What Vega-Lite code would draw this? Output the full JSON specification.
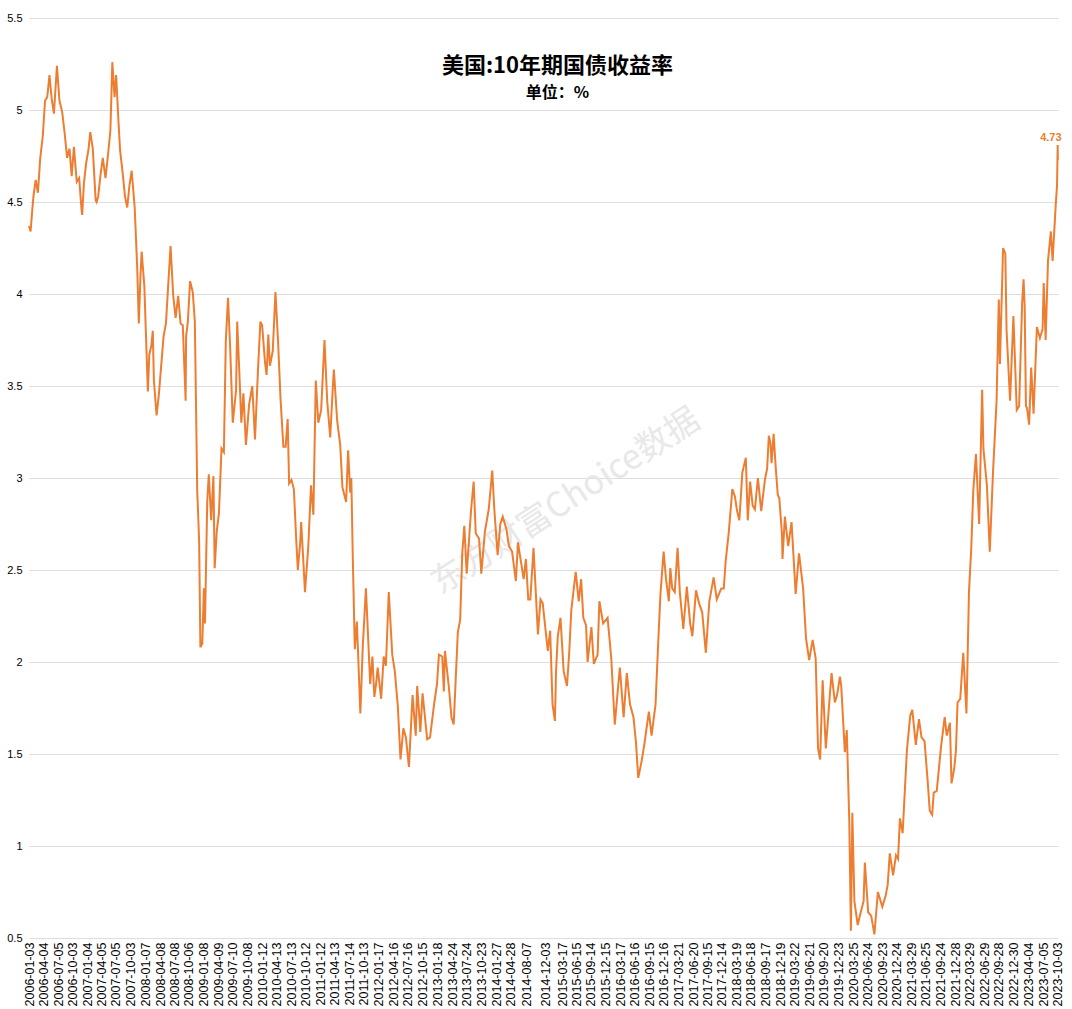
{
  "$schema": "https://vega.github.io/schema/vega-lite/v6.json",
  "autosize": {"type": "fit", "contains": "padding"},
  "width": 1072,
  "height": 1009,
  "padding": {"left": 6, "top": 12, "right": 7, "bottom": 3},
  "background": "white",
  "config": {"view": {"stroke": null}},
  "title": {
    "text": "美国:10年期国债收益率",
    "subtitle": "单位：%",
    "font": "Noto Sans CJK SC",
    "fontSize": 22,
    "fontWeight": "bold",
    "color": "#000000",
    "subtitleFont": "Noto Sans CJK SC",
    "subtitleFontSize": 16,
    "subtitleFontWeight": "bold",
    "subtitleColor": "#000000",
    "subtitlePadding": 7,
    "anchor": "middle",
    "dx": 14,
    "offset": -90
  },
  "data": {"values": [
    {"d":"2006-01-03","v":4.37},{"d":"2006-01-13","v":4.34},{"d":"2006-01-23","v":4.45},{"d":"2006-01-31","v":4.53},{"d":"2006-02-14","v":4.62},{"d":"2006-02-28","v":4.55},
    {"d":"2006-03-15","v":4.74},{"d":"2006-03-31","v":4.86},{"d":"2006-04-14","v":5.05},{"d":"2006-04-28","v":5.07},{"d":"2006-05-12","v":5.19},
    {"d":"2006-05-26","v":5.06},{"d":"2006-06-09","v":4.98},{"d":"2006-06-28","v":5.24},{"d":"2006-07-14","v":5.05},{"d":"2006-07-31","v":4.99},
    {"d":"2006-08-15","v":4.88},{"d":"2006-08-31","v":4.74},{"d":"2006-09-15","v":4.79},{"d":"2006-09-29","v":4.64},{"d":"2006-10-13","v":4.80},
    {"d":"2006-10-31","v":4.61},{"d":"2006-11-15","v":4.63},{"d":"2006-11-30","v":4.46},{"d":"2006-12-04","v":4.43},{"d":"2006-12-15","v":4.60},
    {"d":"2006-12-29","v":4.71},{"d":"2007-01-12","v":4.78},{"d":"2007-01-24","v":4.88},{"d":"2007-02-09","v":4.79},{"d":"2007-02-27","v":4.51},
    {"d":"2007-03-05","v":4.50},{"d":"2007-03-15","v":4.53},{"d":"2007-03-30","v":4.65},{"d":"2007-04-13","v":4.74},{"d":"2007-04-30","v":4.63},
    {"d":"2007-05-15","v":4.75},{"d":"2007-05-31","v":4.89},{"d":"2007-06-12","v":5.26},{"d":"2007-06-26","v":5.07},{"d":"2007-07-06","v":5.19},
    {"d":"2007-07-20","v":4.95},{"d":"2007-07-31","v":4.78},{"d":"2007-08-16","v":4.66},{"d":"2007-08-31","v":4.53},{"d":"2007-09-14","v":4.47},
    {"d":"2007-09-28","v":4.59},{"d":"2007-10-12","v":4.67},{"d":"2007-10-31","v":4.47},{"d":"2007-11-16","v":4.14},{"d":"2007-11-26","v":3.84},
    {"d":"2007-12-07","v":4.11},{"d":"2007-12-14","v":4.23},{"d":"2007-12-31","v":4.04},{"d":"2008-01-08","v":3.83},{"d":"2008-01-22","v":3.47},
    {"d":"2008-01-31","v":3.67},{"d":"2008-02-13","v":3.72},{"d":"2008-02-22","v":3.80},{"d":"2008-02-29","v":3.53},{"d":"2008-03-17","v":3.34},
    {"d":"2008-03-31","v":3.45},{"d":"2008-04-14","v":3.60},{"d":"2008-04-30","v":3.77},{"d":"2008-05-15","v":3.84},{"d":"2008-05-30","v":4.06},
    {"d":"2008-06-13","v":4.26},{"d":"2008-06-30","v":3.99},{"d":"2008-07-15","v":3.87},{"d":"2008-07-31","v":3.99},{"d":"2008-08-15","v":3.84},
    {"d":"2008-08-29","v":3.83},{"d":"2008-09-16","v":3.42},{"d":"2008-09-19","v":3.77},{"d":"2008-09-30","v":3.85},{"d":"2008-10-14","v":4.07},
    {"d":"2008-10-31","v":4.01},{"d":"2008-11-13","v":3.85},{"d":"2008-11-28","v":2.93},{"d":"2008-12-10","v":2.66},{"d":"2008-12-18","v":2.08},
    {"d":"2008-12-30","v":2.10},{"d":"2009-01-09","v":2.40},{"d":"2009-01-16","v":2.21},{"d":"2009-01-30","v":2.87},{"d":"2009-02-09","v":3.02},
    {"d":"2009-02-24","v":2.77},{"d":"2009-03-10","v":3.01},{"d":"2009-03-18","v":2.51},{"d":"2009-03-31","v":2.71},{"d":"2009-04-14","v":2.81},
    {"d":"2009-04-30","v":3.16},{"d":"2009-05-15","v":3.14},{"d":"2009-05-27","v":3.74},{"d":"2009-06-10","v":3.98},{"d":"2009-06-24","v":3.70},
    {"d":"2009-07-10","v":3.30},{"d":"2009-07-31","v":3.48},{"d":"2009-08-07","v":3.85},{"d":"2009-08-21","v":3.56},{"d":"2009-09-02","v":3.30},
    {"d":"2009-09-15","v":3.46},{"d":"2009-10-01","v":3.18},{"d":"2009-10-21","v":3.40},{"d":"2009-11-10","v":3.50},{"d":"2009-11-27","v":3.21},
    {"d":"2009-12-15","v":3.57},{"d":"2009-12-31","v":3.85},{"d":"2010-01-11","v":3.83},{"d":"2010-01-29","v":3.63},{"d":"2010-02-08","v":3.56},
    {"d":"2010-02-19","v":3.78},{"d":"2010-03-01","v":3.61},{"d":"2010-03-19","v":3.69},{"d":"2010-04-05","v":4.01},{"d":"2010-04-21","v":3.75},
    {"d":"2010-05-07","v":3.43},{"d":"2010-05-25","v":3.17},{"d":"2010-06-08","v":3.17},{"d":"2010-06-21","v":3.32},{"d":"2010-06-30","v":2.97},
    {"d":"2010-07-15","v":2.99},{"d":"2010-07-30","v":2.94},{"d":"2010-08-13","v":2.68},{"d":"2010-08-24","v":2.50},{"d":"2010-09-08","v":2.65},
    {"d":"2010-09-14","v":2.76},{"d":"2010-09-30","v":2.51},{"d":"2010-10-08","v":2.38},{"d":"2010-10-29","v":2.63},{"d":"2010-11-15","v":2.96},
    {"d":"2010-11-30","v":2.80},{"d":"2010-12-15","v":3.53},{"d":"2010-12-31","v":3.30},{"d":"2011-01-18","v":3.37},{"d":"2011-02-08","v":3.75},
    {"d":"2011-02-25","v":3.42},{"d":"2011-03-16","v":3.22},{"d":"2011-03-31","v":3.47},{"d":"2011-04-08","v":3.59},{"d":"2011-04-29","v":3.31},
    {"d":"2011-05-18","v":3.18},{"d":"2011-06-01","v":2.95},{"d":"2011-06-24","v":2.87},{"d":"2011-07-07","v":3.15},{"d":"2011-07-20","v":2.92},
    {"d":"2011-07-27","v":3.00},{"d":"2011-08-05","v":2.58},{"d":"2011-08-18","v":2.07},{"d":"2011-08-31","v":2.22},{"d":"2011-09-22","v":1.72},
    {"d":"2011-10-07","v":2.08},{"d":"2011-10-27","v":2.40},{"d":"2011-11-23","v":1.88},{"d":"2011-12-07","v":2.03},{"d":"2011-12-19","v":1.81},
    {"d":"2011-12-30","v":1.88},{"d":"2012-01-09","v":1.97},{"d":"2012-01-31","v":1.80},{"d":"2012-02-16","v":2.03},{"d":"2012-03-01","v":1.98},
    {"d":"2012-03-19","v":2.38},{"d":"2012-04-10","v":2.04},{"d":"2012-04-26","v":1.95},{"d":"2012-05-15","v":1.76},{"d":"2012-06-01","v":1.47},
    {"d":"2012-06-19","v":1.64},{"d":"2012-07-05","v":1.59},{"d":"2012-07-24","v":1.43},{"d":"2012-08-16","v":1.82},{"d":"2012-09-05","v":1.60},
    {"d":"2012-09-14","v":1.87},{"d":"2012-10-04","v":1.62},{"d":"2012-10-18","v":1.83},{"d":"2012-11-16","v":1.58},{"d":"2012-12-04","v":1.59},
    {"d":"2012-12-31","v":1.78},{"d":"2013-01-17","v":1.88},{"d":"2013-01-29","v":2.04},{"d":"2013-02-19","v":2.03},{"d":"2013-03-01","v":1.84},
    {"d":"2013-03-08","v":2.06},{"d":"2013-04-02","v":1.86},{"d":"2013-04-18","v":1.70},{"d":"2013-05-02","v":1.66},{"d":"2013-05-28","v":2.16},
    {"d":"2013-06-12","v":2.23},{"d":"2013-06-25","v":2.59},{"d":"2013-07-08","v":2.74},{"d":"2013-07-23","v":2.48},{"d":"2013-08-20","v":2.83},
    {"d":"2013-09-05","v":2.98},{"d":"2013-09-18","v":2.70},{"d":"2013-10-09","v":2.67},{"d":"2013-10-23","v":2.48},{"d":"2013-11-15","v":2.71},
    {"d":"2013-12-09","v":2.83},{"d":"2013-12-31","v":3.04},{"d":"2014-01-13","v":2.83},{"d":"2014-02-03","v":2.58},{"d":"2014-02-20","v":2.75},
    {"d":"2014-03-07","v":2.79},{"d":"2014-03-31","v":2.72},{"d":"2014-04-15","v":2.63},{"d":"2014-05-05","v":2.60},{"d":"2014-05-29","v":2.44},
    {"d":"2014-06-11","v":2.65},{"d":"2014-07-17","v":2.45},{"d":"2014-07-31","v":2.56},{"d":"2014-08-15","v":2.34},{"d":"2014-08-28","v":2.34},
    {"d":"2014-09-17","v":2.62},{"d":"2014-10-15","v":2.15},{"d":"2014-10-31","v":2.34},{"d":"2014-11-14","v":2.32},{"d":"2014-12-16","v":2.06},
    {"d":"2014-12-31","v":2.17},{"d":"2015-01-15","v":1.77},{"d":"2015-01-30","v":1.68},{"d":"2015-02-06","v":1.95},{"d":"2015-02-17","v":2.14},
    {"d":"2015-03-06","v":2.24},{"d":"2015-03-26","v":1.95},{"d":"2015-04-16","v":1.87},{"d":"2015-04-30","v":2.05},{"d":"2015-05-13","v":2.28},
    {"d":"2015-06-10","v":2.49},{"d":"2015-06-29","v":2.33},{"d":"2015-07-14","v":2.45},{"d":"2015-07-28","v":2.24},{"d":"2015-08-14","v":2.20},
    {"d":"2015-08-24","v":2.00},{"d":"2015-09-17","v":2.19},{"d":"2015-10-02","v":1.99},{"d":"2015-10-26","v":2.04},{"d":"2015-11-06","v":2.33},
    {"d":"2015-11-30","v":2.21},{"d":"2015-12-28","v":2.24},{"d":"2016-01-20","v":2.02},{"d":"2016-02-11","v":1.66},{"d":"2016-03-14","v":1.97},
    {"d":"2016-04-07","v":1.70},{"d":"2016-04-27","v":1.94},{"d":"2016-05-17","v":1.77},{"d":"2016-06-08","v":1.70},{"d":"2016-06-24","v":1.56},
    {"d":"2016-07-08","v":1.37},{"d":"2016-07-29","v":1.46},{"d":"2016-08-15","v":1.55},{"d":"2016-09-13","v":1.73},{"d":"2016-09-30","v":1.60},
    {"d":"2016-10-25","v":1.77},{"d":"2016-11-09","v":2.07},{"d":"2016-11-25","v":2.37},{"d":"2016-12-15","v":2.60},{"d":"2016-12-30","v":2.45},
    {"d":"2017-01-17","v":2.33},{"d":"2017-01-26","v":2.51},{"d":"2017-02-07","v":2.40},{"d":"2017-02-23","v":2.38},{"d":"2017-03-13","v":2.62},
    {"d":"2017-03-27","v":2.38},{"d":"2017-04-18","v":2.18},{"d":"2017-05-10","v":2.41},{"d":"2017-05-31","v":2.21},{"d":"2017-06-14","v":2.14},
    {"d":"2017-07-07","v":2.39},{"d":"2017-07-26","v":2.32},{"d":"2017-08-15","v":2.27},{"d":"2017-09-07","v":2.05},{"d":"2017-09-29","v":2.33},
    {"d":"2017-10-26","v":2.46},{"d":"2017-11-15","v":2.34},{"d":"2017-12-13","v":2.40},{"d":"2017-12-29","v":2.40},{"d":"2018-01-10","v":2.55},
    {"d":"2018-01-29","v":2.70},{"d":"2018-02-21","v":2.94},{"d":"2018-03-09","v":2.90},{"d":"2018-03-23","v":2.82},{"d":"2018-04-06","v":2.77},
    {"d":"2018-04-25","v":3.03},{"d":"2018-05-17","v":3.11},{"d":"2018-05-29","v":2.77},{"d":"2018-06-13","v":2.98},{"d":"2018-06-29","v":2.85},
    {"d":"2018-07-13","v":2.83},{"d":"2018-08-01","v":3.00},{"d":"2018-08-22","v":2.82},{"d":"2018-09-14","v":2.99},{"d":"2018-09-28","v":3.05},
    {"d":"2018-10-09","v":3.23},{"d":"2018-10-19","v":3.19},{"d":"2018-10-26","v":3.08},{"d":"2018-11-08","v":3.24},{"d":"2018-11-21","v":3.06},
    {"d":"2018-12-04","v":2.91},{"d":"2018-12-14","v":2.89},{"d":"2018-12-31","v":2.69},{"d":"2019-01-03","v":2.56},{"d":"2019-01-18","v":2.79},
    {"d":"2019-02-08","v":2.63},{"d":"2019-03-01","v":2.76},{"d":"2019-03-27","v":2.37},{"d":"2019-04-17","v":2.59},{"d":"2019-05-13","v":2.40},
    {"d":"2019-05-31","v":2.13},{"d":"2019-06-20","v":2.01},{"d":"2019-07-12","v":2.12},{"d":"2019-07-31","v":2.02},{"d":"2019-08-15","v":1.53},
    {"d":"2019-08-28","v":1.47},{"d":"2019-09-13","v":1.90},{"d":"2019-10-03","v":1.53},{"d":"2019-10-24","v":1.77},{"d":"2019-11-08","v":1.94},
    {"d":"2019-11-29","v":1.78},{"d":"2019-12-13","v":1.82},{"d":"2019-12-31","v":1.92},{"d":"2020-01-08","v":1.87},{"d":"2020-01-31","v":1.51},
    {"d":"2020-02-12","v":1.63},{"d":"2020-02-28","v":1.13},{"d":"2020-03-09","v":0.54},{"d":"2020-03-18","v":1.18},{"d":"2020-03-31","v":0.70},
    {"d":"2020-04-21","v":0.57},{"d":"2020-05-07","v":0.63},{"d":"2020-05-28","v":0.70},{"d":"2020-06-05","v":0.91},{"d":"2020-06-26","v":0.64},
    {"d":"2020-07-15","v":0.62},{"d":"2020-08-04","v":0.52},{"d":"2020-08-26","v":0.75},{"d":"2020-09-23","v":0.67},{"d":"2020-10-14","v":0.73},
    {"d":"2020-10-27","v":0.79},{"d":"2020-11-09","v":0.96},{"d":"2020-11-30","v":0.84},{"d":"2020-12-18","v":0.95},{"d":"2020-12-31","v":0.93},
    {"d":"2021-01-12","v":1.15},{"d":"2021-01-29","v":1.07},{"d":"2021-02-25","v":1.52},{"d":"2021-03-18","v":1.71},{"d":"2021-03-31","v":1.74},
    {"d":"2021-04-22","v":1.55},{"d":"2021-05-12","v":1.69},{"d":"2021-05-28","v":1.59},{"d":"2021-06-16","v":1.57},{"d":"2021-07-06","v":1.35},
    {"d":"2021-07-19","v":1.19},{"d":"2021-08-03","v":1.17},{"d":"2021-08-13","v":1.29},{"d":"2021-09-01","v":1.30},{"d":"2021-09-28","v":1.54},
    {"d":"2021-10-21","v":1.70},{"d":"2021-11-03","v":1.60},{"d":"2021-11-23","v":1.67},{"d":"2021-12-03","v":1.34},{"d":"2021-12-20","v":1.42},
    {"d":"2021-12-31","v":1.52},{"d":"2022-01-10","v":1.78},{"d":"2022-01-27","v":1.80},{"d":"2022-02-15","v":2.05},{"d":"2022-03-07","v":1.72},
    {"d":"2022-03-23","v":2.38},{"d":"2022-04-06","v":2.61},{"d":"2022-04-19","v":2.93},{"d":"2022-05-06","v":3.13},{"d":"2022-05-26","v":2.75},
    {"d":"2022-06-14","v":3.48},{"d":"2022-06-22","v":3.16},{"d":"2022-07-14","v":2.96},{"d":"2022-08-01","v":2.60},{"d":"2022-08-22","v":3.04},
    {"d":"2022-09-13","v":3.42},{"d":"2022-09-27","v":3.97},{"d":"2022-10-04","v":3.62},{"d":"2022-10-24","v":4.25},{"d":"2022-11-07","v":4.22},
    {"d":"2022-11-15","v":3.80},{"d":"2022-12-07","v":3.42},{"d":"2022-12-28","v":3.88},{"d":"2023-01-18","v":3.37},{"d":"2023-02-02","v":3.39},
    {"d":"2023-02-21","v":3.95},{"d":"2023-03-02","v":4.08},{"d":"2023-03-09","v":3.93},{"d":"2023-03-17","v":3.39},{"d":"2023-03-24","v":3.38},
    {"d":"2023-04-06","v":3.29},{"d":"2023-04-19","v":3.60},{"d":"2023-05-04","v":3.35},{"d":"2023-05-25","v":3.82},{"d":"2023-06-13","v":3.76},
    {"d":"2023-06-30","v":3.81},{"d":"2023-07-07","v":4.06},{"d":"2023-07-19","v":3.75},{"d":"2023-08-03","v":4.18},{"d":"2023-08-21","v":4.34},
    {"d":"2023-09-01","v":4.18},{"d":"2023-09-21","v":4.49},{"d":"2023-09-29","v":4.59},{"d":"2023-10-03","v":4.81},{"d":"2023-10-04","v":4.73}
  ]},
  "encoding": {
    "x": {
      "field": "d",
      "type": "temporal",
      "scale": {"type": "utc", "domain": ["2006-01-03", "2023-10-05"], "nice": false},
      "axis": {
        "title": null,
        "domain": false,
        "ticks": false,
        "grid": false,
        "labelAngle": 270,
        "labelFont": "Liberation Sans",
        "labelFontSize": 12.5,
        "labelColor": "#000000",
        "labelPadding": 4,
        "labelOverlap": false,
        "labelBound": false,
        "labelFlush": false,
        "labelExpr": "utcFormat(datum.value, '%Y-%m-%d')",
        "values": [
          {"year":2006,"month":1,"date":3,"utc":true},{"year":2006,"month":4,"date":4,"utc":true},{"year":2006,"month":7,"date":5,"utc":true},{"year":2006,"month":10,"date":3,"utc":true},
          {"year":2007,"month":1,"date":4,"utc":true},{"year":2007,"month":4,"date":5,"utc":true},{"year":2007,"month":7,"date":5,"utc":true},{"year":2007,"month":10,"date":3,"utc":true},
          {"year":2008,"month":1,"date":7,"utc":true},{"year":2008,"month":4,"date":8,"utc":true},{"year":2008,"month":7,"date":8,"utc":true},{"year":2008,"month":10,"date":6,"utc":true},
          {"year":2009,"month":1,"date":8,"utc":true},{"year":2009,"month":4,"date":9,"utc":true},{"year":2009,"month":7,"date":10,"utc":true},{"year":2009,"month":10,"date":8,"utc":true},
          {"year":2010,"month":1,"date":12,"utc":true},{"year":2010,"month":4,"date":13,"utc":true},{"year":2010,"month":7,"date":13,"utc":true},{"year":2010,"month":10,"date":12,"utc":true},
          {"year":2011,"month":1,"date":12,"utc":true},{"year":2011,"month":4,"date":13,"utc":true},{"year":2011,"month":7,"date":14,"utc":true},{"year":2011,"month":10,"date":13,"utc":true},
          {"year":2012,"month":1,"date":17,"utc":true},{"year":2012,"month":4,"date":16,"utc":true},{"year":2012,"month":7,"date":16,"utc":true},{"year":2012,"month":10,"date":15,"utc":true},
          {"year":2013,"month":1,"date":18,"utc":true},{"year":2013,"month":4,"date":24,"utc":true},{"year":2013,"month":7,"date":24,"utc":true},{"year":2013,"month":10,"date":23,"utc":true},
          {"year":2014,"month":1,"date":27,"utc":true},{"year":2014,"month":4,"date":28,"utc":true},{"year":2014,"month":8,"date":7,"utc":true},{"year":2014,"month":12,"date":3,"utc":true},
          {"year":2015,"month":3,"date":17,"utc":true},{"year":2015,"month":6,"date":15,"utc":true},{"year":2015,"month":9,"date":14,"utc":true},{"year":2015,"month":12,"date":15,"utc":true},
          {"year":2016,"month":3,"date":17,"utc":true},{"year":2016,"month":6,"date":16,"utc":true},{"year":2016,"month":9,"date":15,"utc":true},{"year":2016,"month":12,"date":16,"utc":true},
          {"year":2017,"month":3,"date":21,"utc":true},{"year":2017,"month":6,"date":20,"utc":true},{"year":2017,"month":9,"date":15,"utc":true},{"year":2017,"month":12,"date":14,"utc":true},
          {"year":2018,"month":3,"date":19,"utc":true},{"year":2018,"month":6,"date":18,"utc":true},{"year":2018,"month":9,"date":17,"utc":true},{"year":2018,"month":12,"date":19,"utc":true},
          {"year":2019,"month":3,"date":22,"utc":true},{"year":2019,"month":6,"date":21,"utc":true},{"year":2019,"month":9,"date":20,"utc":true},{"year":2019,"month":12,"date":23,"utc":true},
          {"year":2020,"month":3,"date":25,"utc":true},{"year":2020,"month":6,"date":24,"utc":true},{"year":2020,"month":9,"date":23,"utc":true},{"year":2020,"month":12,"date":24,"utc":true},
          {"year":2021,"month":3,"date":29,"utc":true},{"year":2021,"month":6,"date":25,"utc":true},{"year":2021,"month":9,"date":24,"utc":true},{"year":2021,"month":12,"date":28,"utc":true},
          {"year":2022,"month":3,"date":29,"utc":true},{"year":2022,"month":6,"date":29,"utc":true},{"year":2022,"month":9,"date":28,"utc":true},{"year":2022,"month":12,"date":30,"utc":true},
          {"year":2023,"month":4,"date":4,"utc":true},{"year":2023,"month":7,"date":5,"utc":true},{"year":2023,"month":10,"date":3,"utc":true}
        ]
      }
    },
    "y": {
      "field": "v",
      "type": "quantitative",
      "scale": {"domain": [0.5, 5.5], "nice": false, "zero": false},
      "axis": {
        "title": null,
        "values": [0.5, 1, 1.5, 2, 2.5, 3, 3.5, 4, 4.5, 5, 5.5],
        "format": "~g",
        "domain": false,
        "ticks": false,
        "grid": true,
        "gridColor": "#dedede",
        "gridWidth": 1,
        "labelFont": "Liberation Sans",
        "labelFontSize": 11,
        "labelColor": "#000000",
        "labelPadding": 7
      }
    }
  },
  "layer": [
    {
      "data": {"values": [{"d": "2015-04-10", "v": 2.87, "t": "东方财富Choice数据"}]},
      "mark": {"type": "text", "angle": 327, "font": "Noto Sans CJK SC", "fontSize": 34, "color": "#e6e6e6", "opacity": 0.9},
      "encoding": {"text": {"field": "t"}}
    },
    {
      "mark": {"type": "line", "color": "#ED7D31", "strokeWidth": 2, "interpolate": "linear"}
    },
    {
      "transform": [{"filter": "time(datum.d) == utc(2023, 9, 4)"}],
      "mark": {"type": "text", "color": "#ED7D31", "font": "Liberation Sans", "fontSize": 11, "fontWeight": "bold", "dx": -7, "dy": -22},
      "encoding": {"text": {"field": "v", "type": "quantitative", "format": ".2f"}}
    }
  ]
}
